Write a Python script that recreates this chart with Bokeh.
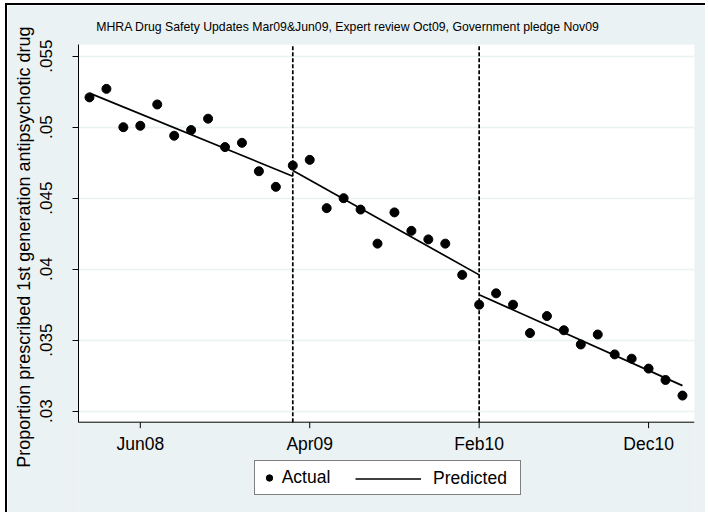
from bokeh.plotting import figure
from bokeh.models import Range1d, FixedTicker, Legend, LegendItem, Title
from bokeh.core.properties import value
from bokeh.embed import file_html
from bokeh.resources import INLINE

# ---------------- data ----------------
months = ["Mar08", "Apr08", "May08", "Jun08", "Jul08", "Aug08", "Sep08", "Oct08", "Nov08", "Dec08",
          "Jan09", "Feb09", "Mar09", "Apr09", "May09", "Jun09", "Jul09", "Aug09", "Sep09", "Oct09",
          "Nov09", "Dec09", "Jan10", "Feb10", "Mar10", "Apr10", "May10", "Jun10", "Jul10", "Aug10",
          "Sep10", "Oct10", "Nov10", "Dec10", "Jan11", "Feb11"]
actual = [0.0521, 0.0527, 0.0500, 0.0501, 0.0516, 0.0494, 0.0498, 0.0506, 0.0486, 0.0489,
          0.0469, 0.0458, 0.0473, 0.0477, 0.0443, 0.0450, 0.0442, 0.0418, 0.0440, 0.0427,
          0.0421, 0.0418, 0.0396, 0.0375, 0.0383, 0.0375, 0.0355, 0.0367, 0.0357, 0.0347,
          0.0354, 0.0340, 0.0337, 0.0330, 0.0322, 0.0311]

# predicted (fitted) segments: start / end month and value
seg_start_month = ["Mar08", "Mar09", "Feb10"]
seg_end_month = ["Mar09", "Feb10", "Feb11"]
pred_start = [0.0524, 0.04695, 0.0382]
pred_end = [0.04655, 0.0396, 0.0318]

interventions = ["Mar09", "Feb10"]

xtick_labels = ["Jun08", "Apr09", "Feb10", "Dec10"]
yticks = [0.03, 0.035, 0.04, 0.045, 0.05, 0.055]
ytick_labels = [".03", ".035", ".04", ".045", ".05", ".055"]

title_text = "MHRA Drug Safety Updates Mar09&Jun09, Expert review Oct09, Government pledge Nov09"
ylabel_text = "Proportion prescribed 1st generation antipsychotic drug"

# ---------------- layout constants ----------------
BG = "#EAF2F3"
FONT = "Liberation Sans"
XLO, XHI = -0.648, 35.71          # plot region limits (months)
YLO, YHI = 0.029225, 0.055824     # plot region limits (proportion)
PX_PER_UNIT = 14200.0             # vertical pixels per unit of proportion
W, H = 700, 509
FRAME_LEFT, FRAME_TOP, FRAME_RIGHT = 70, 39, 687
REGION_BOTTOM = 416.7             # canvas pixel of plot-region bottom
Y_FRAME_BOTTOM = YLO - (H - REGION_BOTTOM) / PX_PER_UNIT
TICK_LEN = 6 / PX_PER_UNIT

x = list(range(len(months)))

p = figure(width=W, height=H, output_backend="svg", toolbar_location=None,
           x_axis_location=None,
           x_range=Range1d(XLO, XHI), y_range=Range1d(Y_FRAME_BOTTOM, YHI),
           min_border_left=FRAME_LEFT, min_border_right=W - FRAME_RIGHT,
           min_border_top=FRAME_TOP, min_border_bottom=0,
           background_fill_color=BG, border_fill_color=BG, outline_line_color=None)
p.styles = {"margin-left": "5px", "margin-top": "3px",
            "border-top": "2px solid black", "border-left": "2px solid black"}

p.title.text = title_text
p.title.align = "left"
p.title.offset = 17.8
p.title.text_font = FONT
p.title.text_font_size = "12.25px"
p.title.text_font_style = "normal"
p.title.text_color = "black"
p.title.standoff = 22

ylab = Title(text=ylabel_text, align="right", offset=-18, text_font=FONT,
             text_font_size="18px", text_font_style="normal", text_color="black", standoff=8)
p.add_layout(ylab, "left")

# white plot region
p.quad(left=[XLO], right=[XHI], bottom=[YLO], top=[YHI], fill_color="white",
       line_color=None, level="image")

# grid
p.xgrid.visible = False
p.ygrid.grid_line_color = BG
p.ygrid.grid_line_width = 1.5

# y axis
p.yaxis.ticker = FixedTicker(ticks=yticks)
p.yaxis.bounds = (YLO, YHI)
p.yaxis.major_label_overrides = {t: l for t, l in zip(yticks, ytick_labels)}
p.yaxis.major_label_orientation = "vertical"
p.yaxis.axis_line_color = "black"
p.yaxis.axis_line_width = 1
p.yaxis.major_tick_line_color = "black"
p.yaxis.major_tick_out = 6
p.yaxis.major_tick_in = 0
p.yaxis.minor_tick_out = 0
p.yaxis.minor_tick_in = 0
p.yaxis.major_label_text_font = FONT
p.yaxis.major_label_text_font_size = "17px"
p.yaxis.major_label_text_color = "black"
p.yaxis.major_label_standoff = 20

# x axis drawn by hand at the bottom of the plot region
xt = [months.index(m) for m in xtick_labels]
p.segment(x0=[XLO], y0=[YLO], x1=[XHI], y1=[YLO], line_color="black", line_width=1)
p.segment(x0=xt, y0=[YLO] * len(xt), x1=xt, y1=[YLO - TICK_LEN] * len(xt),
          line_color="black", line_width=1)
p.text(x=xt, y=[YLO] * len(xt), text=xtick_labels, text_align="center",
       text_baseline="alphabetic", y_offset=21.5, text_font=value(FONT),
       text_font_size=value("17.5px"), text_color="black")

# intervention lines
xi = [months.index(m) for m in interventions]
p.segment(x0=xi, y0=[YLO] * len(xi), x1=xi, y1=[YHI] * len(xi), line_color="black",
          line_dash="4 2", line_width=1.7)

# predicted
seg = p.segment(x0=[months.index(m) for m in seg_start_month], y0=pred_start,
                x1=[months.index(m) for m in seg_end_month], y1=pred_end,
                line_color="black", line_width=1.7)

# actual
pts = p.scatter(x=x, y=actual, size=9, color="black")

LEG_Y = 19
legA = Legend(items=[LegendItem(label="Actual", renderers=[pts])], location=(175.7, LEG_Y),
              orientation="horizontal", glyph_width=16, glyph_height=21, label_height=21,
              label_width=232, padding=6, label_standoff=5, margin=0,
              border_line_color="black", border_line_width=1,
              background_fill_color="white", background_fill_alpha=1,
              label_text_font=FONT, label_text_font_size="17.5px", label_text_color="black")
legB = Legend(items=[LegendItem(label="Predicted", renderers=[seg])], location=(271, LEG_Y),
              orientation="horizontal", glyph_width=66, glyph_height=21, label_height=21,
              padding=6, label_standoff=12, margin=0,
              border_line_color="white", border_line_alpha=0, background_fill_alpha=0,
              label_text_font=FONT, label_text_font_size="17.5px", label_text_color="black")
p.add_layout(legA, "center")
p.add_layout(legB, "center")

open("out.html", "w").write(file_html(p, INLINE))
